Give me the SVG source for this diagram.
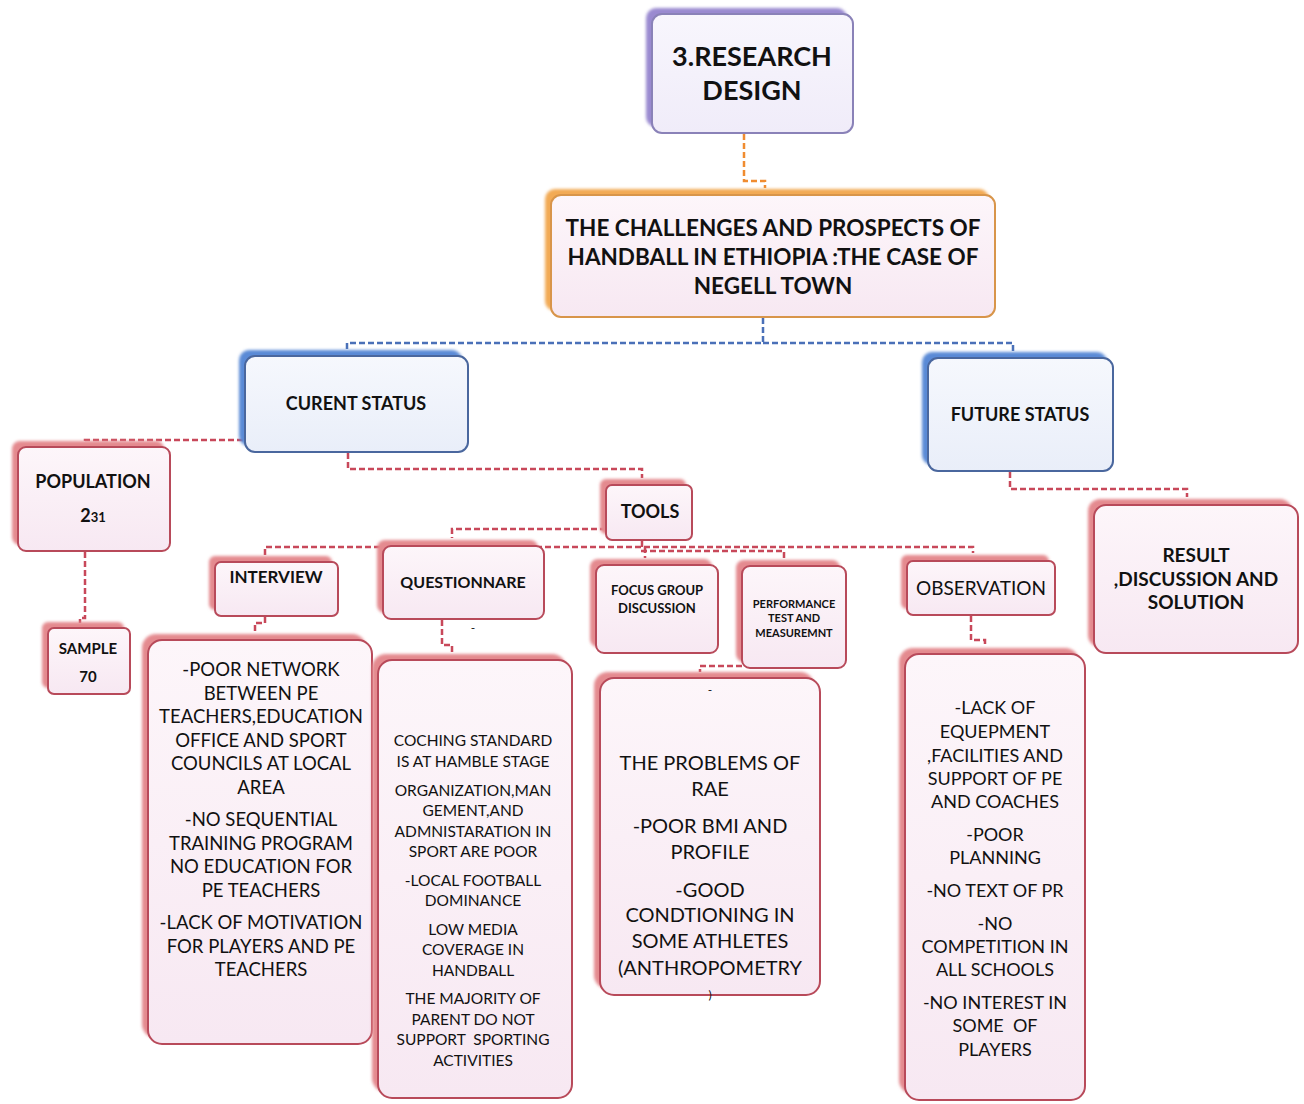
<svg xmlns="http://www.w3.org/2000/svg" width="1304" height="1104" viewBox="0 0 1304 1104">
<defs>
<filter id="blur" x="-10%" y="-10%" width="120%" height="120%"><feGaussianBlur stdDeviation="1.5"/></filter>
<linearGradient id="gp" x1="0" y1="0" x2="0" y2="1"><stop offset="0" stop-color="#fdf6fa"/><stop offset="1" stop-color="#f7e8f2"/></linearGradient>
<linearGradient id="gb" x1="0" y1="0" x2="0" y2="1"><stop offset="0" stop-color="#f6f8fd"/><stop offset="1" stop-color="#e9eef9"/></linearGradient>
<linearGradient id="gv" x1="0" y1="0" x2="0" y2="1"><stop offset="0" stop-color="#f8f6fd"/><stop offset="1" stop-color="#f0ecf9"/></linearGradient>
</defs>
<style>
text{font-family:Lato,"Open Sans","Liberation Sans",sans-serif;fill:#111;text-anchor:middle}
.b{font-weight:bold}
.sh{filter:url(#blur)}
.red .sh{fill:#e48a8f}
.red .bx{fill:url(#gp);stroke:#b84a5a;stroke-width:2}
.blue .sh{fill:#5a8ad6}
.blue .bx{fill:url(#gb);stroke:#4a679e;stroke-width:2}
.org .sh{fill:#f2aa55}
.org .bx{fill:url(#gp);stroke:#d8954a;stroke-width:2}
.pur .sh{fill:#9a8ad0}
.pur .bx{fill:url(#gv);stroke:#8a82b8;stroke-width:2}
.c{fill:none;stroke-width:2.5;stroke-dasharray:6 3}
.cr{stroke:#c8485a}
.cb{stroke:#4a70b8}
.co{stroke:#f08c30}
</style>
<g id="connectors">
<path class="c co" d="M744 134 V181 H765 V188"/>
<path class="c cb" d="M763 318 V343 H347 V350"/>
<path class="c cb" d="M763 343 H1013 V352"/>
<path class="c cr" d="M243 440 H85 V443"/>
<path class="c cr" d="M85 552 V618 H80 V623"/>
<path class="c cr" d="M348 453 V469 H642 V478"/>
<path class="c cr" d="M1010 472 V489 H1187 V497"/>
<path class="c cr" d="M606 529 H452 V538"/>
<path class="c cr" d="M642 541 V547"/>
<path class="c cr" d="M265 555 V547 H973 V553"/>
<path class="c cr" d="M645 547 V558"/>
<path class="c cr" d="M641 551 H784 V558"/>
<path class="c cr" d="M265 617 V623 H255 V632"/>
<path class="c cr" d="M442 620 V645 H452 V652"/>
<path class="c cr" d="M742 666 H700 V672"/>
<path class="c cr" d="M971 616 V640 H985 V647"/>
</g>
<g id="research-design" class="pur">
<rect class="sh" x="646" y="8" width="201" height="119" rx="10"/>
<rect class="bx" x="652" y="14" width="201" height="119" rx="10"/>
<text class="b" font-size="27" x="752"><tspan x="752" y="66">3.RESEARCH</tspan><tspan x="752" y="100">DESIGN</tspan></text>
</g>
<g id="title" class="org">
<rect class="sh" x="545" y="189" width="444" height="122" rx="10"/>
<rect class="bx" x="551" y="195" width="444" height="122" rx="10"/>
<text class="b" font-size="22.5"><tspan x="773" y="236">THE CHALLENGES AND PROSPECTS OF</tspan><tspan x="773" y="265">HANDBALL IN ETHIOPIA :THE CASE OF</tspan><tspan x="773" y="294">NEGELL TOWN</tspan></text>
</g>
<g id="current-status" class="blue">
<rect class="sh" x="239" y="350" width="223" height="96" rx="10"/>
<rect class="bx" x="245" y="356" width="223" height="96" rx="10"/>
<text class="b" font-size="18" x="356" y="410">CURENT STATUS</text>
</g>
<g id="future-status" class="blue">
<rect class="sh" x="922" y="352" width="185" height="113" rx="10"/>
<rect class="bx" x="928" y="358" width="185" height="113" rx="10"/>
<text class="b" font-size="18" x="1020" y="421">FUTURE STATUS</text>
</g>
<g id="population" class="red">
<rect class="sh" x="12" y="441" width="152" height="104" rx="8"/>
<rect class="bx" x="18" y="447" width="152" height="104" rx="8"/>
<text class="b" font-size="18" x="93" y="488">POPULATION</text>
<text class="b" font-size="18" x="93" y="522">2<tspan font-size="13">31</tspan></text>
</g>
<g id="sample" class="red">
<rect class="sh" x="42" y="622" width="82" height="66" rx="6"/>
<rect class="bx" x="48" y="628" width="82" height="66" rx="6"/>
<text class="b" font-size="15" x="88" y="654">SAMPLE</text>
<text class="b" font-size="15" x="88" y="682">70</text>
</g>
<g id="tools" class="red">
<rect class="sh" x="600" y="479" width="86" height="55" rx="6"/>
<rect class="bx" x="606" y="485" width="86" height="55" rx="6"/>
<text class="b" font-size="18" x="650" y="518">TOOLS</text>
</g>
<g id="result" class="red">
<rect class="sh" x="1088" y="499" width="204" height="148" rx="12"/>
<rect class="bx" x="1094" y="505" width="204" height="148" rx="12"/>
<text class="b" font-size="19"><tspan x="1196" y="562">RESULT</tspan><tspan x="1196" y="586">,DISCUSSION AND</tspan><tspan x="1196" y="609">SOLUTION</tspan></text>
</g>
<g id="interview" class="red">
<rect class="sh" x="209" y="556" width="123" height="54" rx="6"/>
<rect class="bx" x="215" y="562" width="123" height="54" rx="6"/>
<text class="b" font-size="17" x="276" y="583">INTERVIEW</text>
</g>
<g id="questionnaire" class="red">
<rect class="sh" x="377" y="540" width="161" height="73" rx="8"/>
<rect class="bx" x="383" y="546" width="161" height="73" rx="8"/>
<text class="b" font-size="16" x="463" y="588">QUESTIONNARE</text>
</g>
<g id="focus-group" class="red">
<rect class="sh" x="590" y="559" width="122" height="88" rx="8"/>
<rect class="bx" x="596" y="565" width="122" height="88" rx="8"/>
<text class="b" font-size="13"><tspan x="657" y="595">FOCUS GROUP</tspan><tspan x="657" y="613">DISCUSSION</tspan></text>
</g>
<g id="performance" class="red">
<rect class="sh" x="736" y="560" width="104" height="102" rx="8"/>
<rect class="bx" x="742" y="566" width="104" height="102" rx="8"/>
<text class="b" font-size="11"><tspan x="794" y="608">PERFORMANCE</tspan><tspan x="794" y="622">TEST AND</tspan><tspan x="794" y="637">MEASUREMNT</tspan></text>
</g>
<g id="observation" class="red">
<rect class="sh" x="901" y="555" width="148" height="54" rx="6"/>
<rect class="bx" x="907" y="561" width="148" height="54" rx="6"/>
<text font-size="19" x="981" y="595">OBSERVATION</text>
</g>
<g id="interview-findings" class="red">
<rect class="sh" x="142" y="634" width="224" height="404" rx="14"/>
<rect class="bx" x="148" y="640" width="224" height="404" rx="14"/>
<text font-size="18.5"><tspan x="261" y="676">-POOR NETWORK</tspan><tspan x="261" y="700">BETWEEN PE</tspan><tspan x="261" y="723">TEACHERS,EDUCATION</tspan><tspan x="261" y="747">OFFICE AND SPORT</tspan><tspan x="261" y="770">COUNCILS AT LOCAL</tspan><tspan x="261" y="794">AREA</tspan><tspan x="261" y="826">-NO SEQUENTIAL</tspan><tspan x="261" y="850">TRAINING PROGRAM</tspan><tspan x="261" y="873">NO EDUCATION FOR</tspan><tspan x="261" y="897">PE TEACHERS</tspan><tspan x="261" y="929">-LACK OF MOTIVATION</tspan><tspan x="261" y="953">FOR PLAYERS AND PE</tspan><tspan x="261" y="976">TEACHERS</tspan></text>
</g>
<g id="questionnaire-findings" class="red">
<rect class="sh" x="372" y="654" width="194" height="438" rx="14"/>
<rect class="bx" x="378" y="660" width="194" height="438" rx="14"/>
<text font-size="15.5"><tspan x="473" y="746">COCHING STANDARD</tspan><tspan x="473" y="767">IS AT HAMBLE STAGE</tspan><tspan x="473" y="796">ORGANIZATION,MAN</tspan><tspan x="473" y="816">GEMENT,AND</tspan><tspan x="473" y="837">ADMNISTARATION IN</tspan><tspan x="473" y="857">SPORT ARE POOR</tspan><tspan x="473" y="886">-LOCAL FOOTBALL</tspan><tspan x="473" y="906">DOMINANCE</tspan><tspan x="473" y="935">LOW MEDIA</tspan><tspan x="473" y="955">COVERAGE IN</tspan><tspan x="473" y="976">HANDBALL</tspan><tspan x="473" y="1004">THE MAJORITY OF</tspan><tspan x="473" y="1025">PARENT DO NOT</tspan><tspan x="473" y="1045" xml:space="preserve">SUPPORT  SPORTING</tspan><tspan x="473" y="1066">ACTIVITIES</tspan></text>
</g>
<text font-size="12" x="473" y="632">-</text>
<g id="test-findings" class="red">
<rect class="sh" x="594" y="672" width="220" height="317" rx="14"/>
<rect class="bx" x="600" y="678" width="220" height="317" rx="14"/>
<text font-size="12" x="710" y="694">-</text>
<text font-size="20"><tspan x="710" y="770">THE PROBLEMS OF</tspan><tspan x="710" y="796">RAE</tspan><tspan x="710" y="833">-POOR BMI AND</tspan><tspan x="710" y="859">PROFILE</tspan><tspan x="710" y="897">-GOOD</tspan><tspan x="710" y="922">CONDTIONING IN</tspan><tspan x="710" y="948">SOME ATHLETES</tspan><tspan x="710" y="975">(ANTHROPOMETRY</tspan><tspan x="710" y="999" font-size="12">)</tspan></text>
</g>
<g id="observation-findings" class="red">
<rect class="sh" x="899" y="648" width="180" height="446" rx="14"/>
<rect class="bx" x="905" y="654" width="180" height="446" rx="14"/>
<text font-size="18"><tspan x="995" y="714">-LACK OF</tspan><tspan x="995" y="738">EQUEPMENT</tspan><tspan x="995" y="762">,FACILITIES AND</tspan><tspan x="995" y="785">SUPPORT OF PE</tspan><tspan x="995" y="808">AND COACHES</tspan><tspan x="995" y="841">-POOR</tspan><tspan x="995" y="864">PLANNING</tspan><tspan x="995" y="897">-NO TEXT OF PR</tspan><tspan x="995" y="930">-NO</tspan><tspan x="995" y="953">COMPETITION IN</tspan><tspan x="995" y="976">ALL SCHOOLS</tspan><tspan x="995" y="1009">-NO INTEREST IN</tspan><tspan x="995" y="1032" xml:space="preserve">SOME  OF</tspan><tspan x="995" y="1056">PLAYERS</tspan></text>
</g>
</svg>
